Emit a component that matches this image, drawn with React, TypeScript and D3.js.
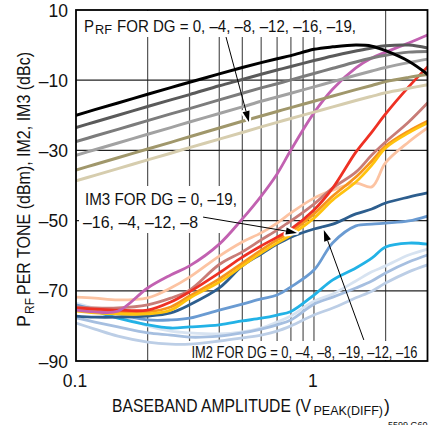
import React from 'react';
import * as d3 from 'd3';

// Baseband amplitude (V peak diff) sample points
const X = [0.1, 0.12, 0.15, 0.2, 0.25, 0.3, 0.4, 0.5, 0.6, 0.7, 0.8, 1, 1.2, 1.5, 1.75, 2, 2.5, 3];

// PRF per tone (dBm) for DG = 0, -4, -8, -12, -16, -19
const prfDG0 = [-20, -18.4, -16.5, -14, -12.1, -10.6, -8.2, -6.4, -5, -3.9, -3, -1.2, -0.5, 0, -0.3, -1.6, -4.6, -8.3];
const prfDG4 = [-23.5, -21.9, -20, -17.5, -15.6, -14.1, -11.6, -9.8, -8.3, -7.1, -6.1, -4.4, -3.1, -1.7, -0.8, -0.2, 0, -0.8];
const prfDG8 = [-27.5, -25.9, -24, -21.5, -19.6, -18.1, -15.6, -13.7, -12.2, -11, -9.9, -8.1, -6.6, -4.8, -3.7, -2.9, -2, -1.8];
const prfDG12 = [-31.4, -29.8, -27.9, -25.4, -23.5, -21.9, -19.5, -17.6, -16, -14.8, -13.7, -11.9, -10.4, -8.6, -7.4, -6.4, -5, -4];
const prfDG16 = [-35.6, -34, -32.1, -29.6, -27.7, -26.1, -23.6, -21.7, -20.2, -18.9, -17.8, -16, -14.5, -12.7, -11.5, -10.4, -9.2, -8.4];
const prfDG19 = [-38.7, -37.1, -35.2, -32.7, -30.8, -29.2, -26.8, -24.9, -23.3, -22, -20.9, -19.1, -17.6, -15.8, -14.6, -13.6, -12.3, -11.3];

// IM3 (dBc)
const im3Magenta = [-75.5, -76, -75.8, -69.2, -65.5, -62.9, -56.7, -49.5, -43, -36.7, -29.9, -19.3, -12.5, -6.5, -3.7, -2, 0.6, 2.9];
const im3Peach = [-71.8, -72.1, -72.6, -72, -69.2, -66.1, -60.1, -56.1, -53.5, -50.7, -47.8, -43.6, -41.3, -39.3, -40.4, -33.5, -27.6, -23.6];
const im3Rose = [-74.6, -74.9, -74.9, -74, -72.1, -69.8, -62.5, -58.9, -55.5, -52.7, -50.1, -45.3, -40.7, -36.2, -31.3, -27.6, -21.9, -16.5];
const im3Red = [-74.9, -75.2, -75.5, -75.5, -73.2, -70.3, -64.9, -60.4, -57.2, -54.7, -52.4, -47, -40.7, -30.5, -24.8, -19.6, -11.9, -6.2];
const im3Orange = [-75.2, -75.6, -76, -76, -74.6, -71.5, -66.6, -62.1, -58.4, -55.5, -53.2, -48.1, -43, -37.6, -33, -28.8, -24.5, -21.7];
const im3Yellow = [-75.8, -76.3, -76.6, -76.6, -75.5, -72.1, -67.5, -62.9, -59.2, -56.4, -54.1, -49.3, -44.1, -39, -34.2, -29.3, -25, -22.2];

// IM2 (dBc)
const im2DarkBlue = [-77.2, -77.5, -77.5, -77.2, -76.3, -74, -69.2, -62.9, -59.5, -56.7, -54.7, -52.4, -51, -48.1, -46.7, -45, -43.3, -42.1];
const im2MidBlue = [-74, -75.3, -76.6, -78.3, -78.3, -77.8, -75.5, -73.8, -72.3, -71.2, -68.9, -64.1, -56.3, -51.5, -51, -50.7, -50.1, -48.7];
const im2Cyan = [-74.3, -75.8, -77.8, -79.7, -80.6, -80.3, -79.7, -78.6, -77.8, -76.9, -75.9, -71.2, -66.9, -63.5, -60.7, -57.5, -56.4, -56.7];
const im2Pale = [-73.5, -75, -76.9, -80, -81.5, -82, -82.3, -81.7, -80.6, -78.9, -77.2, -73, -70.9, -67.2, -64.6, -62.9, -59.8, -58.1];
const im2Light = [-77.7, -78.9, -80.3, -82, -82.6, -83.2, -82.9, -82, -80.9, -79.7, -78.3, -73.8, -71.8, -69.2, -67.2, -64.9, -61.8, -59.8];
const im2Gray = [-79.2, -80.9, -82.9, -84.6, -85.2, -85.2, -84.3, -83.4, -82.6, -81.5, -80, -76.9, -74.9, -72, -70.1, -67.8, -64.6, -62.6];

const Y_TICKS = [10, -10, -30, -50, -70, -90];
const Y_GRID = [-10, -30, -50, -70];
const X_TICKS = [0.1, 1];
const X_GRID = [0.2, 0.3, 0.4, 0.5, 0.6, 0.7, 0.8, 0.9, 1, 2];

const SERIES = [
  { v: im2Pale, c: '#d7e3f1', w: 2.8 },
  { v: im2Gray, c: '#bccee6', w: 2.8 },
  { v: im2Light, c: '#a6bfe0', w: 2.8 },
  { v: im2Cyan, c: '#22b2e6', w: 2.8 },
  { v: im2MidBlue, c: '#6a9bd2', w: 2.8 },
  { v: im2DarkBlue, c: '#2d5e8e', w: 2.8 },
  { v: im3Peach, c: '#fcc3a2', w: 2.8 },
  { v: im3Rose, c: '#c87c77', w: 2.8 },
  { v: im3Orange, c: '#f7941d', w: 2.8 },
  { v: im3Yellow, c: '#ffc20e', w: 2.8 },
  { v: im3Red, c: '#ee3124', w: 2.8 },
  { v: im3Magenta, c: '#c261b1', w: 2.8 },
  { v: prfDG19, c: '#d6cdae', w: 3 },
  { v: prfDG16, c: '#a0976b', w: 3 },
  { v: prfDG12, c: '#a2a2a2', w: 3 },
  { v: prfDG8, c: '#7c7c7c', w: 3 },
  { v: prfDG4, c: '#5a5a5a', w: 3 },
  { v: prfDG0, c: '#000000', w: 3 },
];

const W = 448, H = 425;
const L = 76, R = 427.5, T = 10, B = 361;
const FONT = "'Liberation Sans Narrow', 'Arial Narrow', 'Liberation Sans', Arial, sans-serif";
const INK = '#111';

function Arrow({ x1, y1, x2, y2 }: { x1: number; y1: number; x2: number; y2: number }) {
  const ang = Math.atan2(y2 - y1, x2 - x1);
  const len = 11, hw = 3.6;
  const bx = x2 - len * Math.cos(ang), by = y2 - len * Math.sin(ang);
  const px = -Math.sin(ang) * hw, py = Math.cos(ang) * hw;
  const pts = `${x2},${y2} ${bx + px},${by + py} ${bx - px},${by - py}`;
  return (
    <g>
      <polygon points={pts} fill="#fff" stroke="#fff" strokeWidth={4} strokeLinejoin="round" />
      <line x1={x1} y1={y1} x2={bx} y2={by} stroke="#000" strokeWidth={1} />
      <polygon points={pts} fill="#000" />
    </g>
  );
}

export default function App() {
  const x = d3.scaleLog().domain([0.1, 3]).range([L, R]);
  const y = d3.scaleLinear().domain([-90, 10]).range([B, T]);
  const line = d3.line<[number, number]>()
    .x(d => x(d[0]))
    .y(d => y(d[1]))
    .curve(d3.curveCatmullRom.alpha(0.5));

  return (
    <svg width={W} height={H} style={{ position: 'absolute', left: 0, top: 0, background: '#fff' }} fontFamily={FONT}>
      <rect x={0} y={0} width={W} height={H} fill="#fff" />
      {/* grid */}
      {X_GRID.map(g => (
        <line key={'vx' + g} x1={x(g)} x2={x(g)} y1={T} y2={B} stroke="#555" strokeWidth={1.2} />
      ))}
      {Y_GRID.map(g => (
        <line key={'hy' + g} x1={L} x2={R} y1={y(g)} y2={y(g)} stroke="#222" strokeWidth={1.2} />
      ))}
      {/* label backgrounds */}
      <rect x={78} y={11} width={284} height={26} fill="#fff" />
      <rect x={79} y={186} width={161} height={47} fill="#fff" />
      <rect x={187} y={341} width={238} height={19} fill="#fff" />

      <clipPath id="plotclip">
        <rect x={L} y={T} width={R - L} height={B - T} />
      </clipPath>
      <g clipPath="url(#plotclip)">
        {SERIES.map((s, i) => (
          <path key={i} d={line(X.map((xv, j) => [xv, s.v[j]] as [number, number])) || ''}
            fill="none" stroke={s.c} strokeWidth={s.w} strokeLinecap="round" strokeLinejoin="round" />
        ))}
      </g>

      {/* annotations */}
      <text x={84} y={32} fontSize={16.5} textLength={10} lengthAdjust="spacingAndGlyphs" fill={INK}>P</text>
      <text x={95} y={34} fontSize={12} textLength={17} lengthAdjust="spacingAndGlyphs" fill={INK}>RF</text>
      <text x={117} y={32} fontSize={16.5} textLength={239} lengthAdjust="spacingAndGlyphs" fill={INK}>FOR DG = 0, –4, –8, –12, –16, –19,</text>
      <Arrow x1={x(0.427)} y1={y(2.3)} x2={x(0.533)} y2={y(-21.9)} />

      <text x={85} y={205} fontSize={16.5} textLength={152} lengthAdjust="spacingAndGlyphs" fill={INK}>IM3 FOR DG = 0, –19,</text>
      <text x={83} y={228} fontSize={16.5} textLength={115} lengthAdjust="spacingAndGlyphs" fill={INK}>–16, –4, –12, –8</text>
      <Arrow x1={x(0.342)} y1={y(-49)} x2={x(0.848)} y2={y(-53.5)} />

      <text x={191.5} y={357.5} fontSize={16} textLength={226} lengthAdjust="spacingAndGlyphs" fill={INK}>IM2 FOR DG = 0, –4, –8, –19, –12, –16</text>
      <Arrow x1={x(1.62)} y1={y(-84)} x2={x(1.1)} y2={y(-52.7)} />

      {/* frame */}
      <rect x={L} y={T} width={R - L} height={B - T} fill="none" stroke="#000" strokeWidth={1.8} />

      {/* y tick labels */}
      {Y_TICKS.map(t => (
        <text key={'yt' + t} x={68} y={y(t) + 6.5} fontSize={17.5} textAnchor="end" fill={INK}>
          {t < 0 ? '\u2013' + Math.abs(t) : String(t)}
        </text>
      ))}
      {/* x tick labels */}
      {X_TICKS.map(t => (
        <text key={'xt' + t} x={x(t) - 1} y={387} fontSize={17.5} textAnchor="middle" fill={INK}>{String(t)}</text>
      ))}

      {/* axis titles */}
      <text x={112} y={412} fontSize={17.5} textLength={199} lengthAdjust="spacingAndGlyphs" fill={INK}>BASEBAND AMPLITUDE (V</text>
      <text x={313.5} y={415} fontSize={13} textLength={69.5} lengthAdjust="spacingAndGlyphs" fill={INK}>PEAK(DIFF)</text>
      <text x={384} y={412} fontSize={17.5} fill={INK}>)</text>

      <g transform="translate(30,327) rotate(-90)">
        <text x={0} y={0} fontSize={17.5} textLength={12} lengthAdjust="spacingAndGlyphs" fill={INK}>P</text>
        <text x={13} y={3.5} fontSize={12.5} textLength={16} lengthAdjust="spacingAndGlyphs" fill={INK}>RF</text>
        <text x={32} y={0} fontSize={17.5} textLength={243} lengthAdjust="spacingAndGlyphs" fill={INK}>PER TONE (dBm), IM2, IM3 (dBc)</text>
      </g>
      <text x={388} y={428} fontSize={9} fill={INK}>5599 G60</text>
    </svg>
  );
}
